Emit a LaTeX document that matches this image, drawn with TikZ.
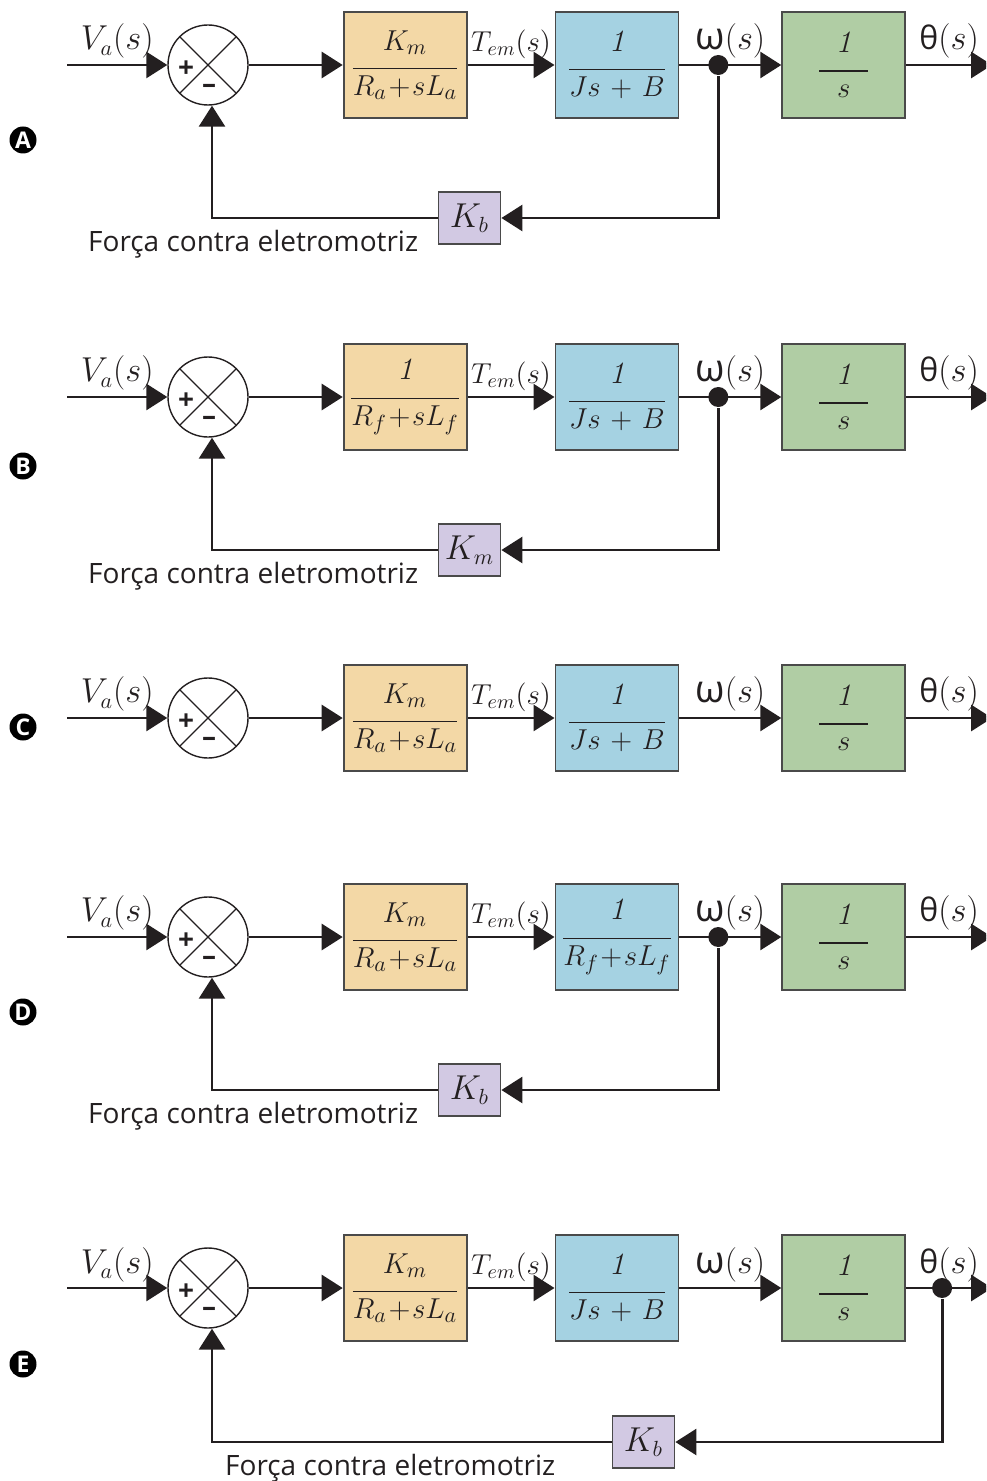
\documentclass[tikz,border=0pt]{standalone}
\usepackage{amsmath}
\usepackage{fontspec}
\newfontfamily\textofonte{Open Sans}
\usetikzlibrary{arrows.meta,positioning}

\definecolor{laranja}{HTML}{F3D8A6}
\definecolor{azul}{HTML}{A5D2E2}
\definecolor{verde}{HTML}{B0CDA4}
\definecolor{lilas}{HTML}{D2C9E3}
\definecolor{borda}{HTML}{4A4A4A}
\definecolor{tinta}{HTML}{231F20}

\newcommand{\fracao}[2]{$\dfrac{\raisebox{3pt}{$#1$}}{#2}$}
\newcommand{\romega}{{\textofonte\fontsize{19}{19}\selectfont ω}$(s)$}
\newcommand{\rtheta}{{\textofonte\fontsize{16}{16}\selectfont θ}$(s)$}

\begin{document}
\begin{tikzpicture}[x=0.5pt,y=-0.5pt,>={Triangle[length=10.5pt,width=13pt]},
    node distance=47pt,line width=1.4pt,color=tinta,
    bloco/.style={draw=borda,line width=0.9pt,minimum width=61.5pt,minimum height=53pt,
        inner sep=0pt,font=\fontsize{15.5}{18}\selectfont},
    somador/.style={draw,circle,line width=0.7pt,minimum size=40pt,inner sep=0pt,
        path picture={
            \draw[line width=0.6pt] (path picture bounding box.north west) -- (path picture bounding box.south east)
                (path picture bounding box.north east) -- (path picture bounding box.south west);
            \node[font=\textofonte\bfseries\fontsize{14}{14}\selectfont] at ([xshift=-11pt,yshift=-2pt]path picture bounding box.center) {+};
            \node[font=\textofonte\bfseries\fontsize{14}{14}\selectfont] at ([xshift=0.5pt,yshift=-12pt]path picture bounding box.center) {–};
        }},
    ganho/.style={draw=borda,fill=lilas,line width=0.9pt,minimum width=31pt,minimum height=26pt,
        inner sep=0pt,font=\fontsize{16}{19}\selectfont},
    ponto/.style={circle,fill=tinta,minimum size=10pt,inner sep=0pt},
    rotulo/.style={font=\fontsize{16}{19}\selectfont,inner sep=2.5pt},
    rotuloT/.style={rotulo,font=\fontsize{14.5}{17}\selectfont},
    letra/.style={circle,fill=black,text=white,minimum size=13.5pt,inner sep=0pt,
        font=\textofonte\bfseries\fontsize{11.5}{11.5}\selectfont},
    legenda/.style={font=\textofonte\fontsize{14}{16}\selectfont,inner sep=0pt}]

\useasboundingbox (0,0) rectangle (986,1481);
\clip (0,0) rectangle (986,1481);

% A
\node[somador] (sA) at (208,65) {};
\coordinate[left=50pt of sA] (inA);
\node[bloco,fill=laranja,right=of sA] (eA) {\fracao{K_m}{R_a\!+\!sL_a}};
\node[bloco,fill=azul,right=43.5pt of eA] (mA) {\fracao{\mathit{1}}{Js\mkern2mu+\mkern2mu B}};
\node[bloco,fill=verde,right=51pt of mA] (iA) {\fracao{\mathit{1}}{\hspace{9pt}s\hspace{9pt}}};
\coordinate[right=43pt of iA] (oA);
\node[ponto] (pA) at ([xshift=19.5pt]mA.east) {};
\node[ganho] (kA) at (469.5,218) {$K_b$};
\node[legenda,left=9pt of kA,yshift=-13pt] (tA) {Força contra eletromotriz};
\node[letra] (lA) at (23,140) {A};

\draw[->] (inA) -- node[rotulo,above] {$V_a(s)$} (sA);
\draw[->] (sA) -- (eA);
\draw[->] (eA) -- node[rotuloT,above] {$T_{em}(s)$} (mA);
\draw[->] (mA) -- node[rotulo,above] {\romega} (iA);
\draw[->] (iA) -- node[rotulo,above] {\rtheta} (oA);
\draw[->] (pA) |- (kA);
\draw[->] (kA) -| ([xshift=2pt]sA.south);

% B
\node[somador] (sB) at (208,397) {};
\coordinate[left=50pt of sB] (inB);
\node[bloco,fill=laranja,right=of sB] (eB) {\fracao{\mathit{1}}{R_f\!+\!sL_f}};
\node[bloco,fill=azul,right=43.5pt of eB] (mB) {\fracao{\mathit{1}}{Js\mkern2mu+\mkern2mu B}};
\node[bloco,fill=verde,right=51pt of mB] (iB) {\fracao{\mathit{1}}{\hspace{9pt}s\hspace{9pt}}};
\coordinate[right=43pt of iB] (oB);
\node[ponto] (pB) at ([xshift=19.5pt]mB.east) {};
\node[ganho] (kB) at (469.5,550) {$K_m$};
\node[legenda,left=9pt of kB,yshift=-13pt] (tB) {Força contra eletromotriz};
\node[letra] (lB) at (23,466) {B};

\draw[->] (inB) -- node[rotulo,above] {$V_a(s)$} (sB);
\draw[->] (sB) -- (eB);
\draw[->] (eB) -- node[rotuloT,above] {$T_{em}(s)$} (mB);
\draw[->] (mB) -- node[rotulo,above] {\romega} (iB);
\draw[->] (iB) -- node[rotulo,above] {\rtheta} (oB);
\draw[->] (pB) |- (kB);
\draw[->] (kB) -| ([xshift=2pt]sB.south);

% C
\node[somador] (sC) at (208,718) {};
\coordinate[left=50pt of sC] (inC);
\node[bloco,fill=laranja,right=of sC] (eC) {\fracao{K_m}{R_a\!+\!sL_a}};
\node[bloco,fill=azul,right=43.5pt of eC] (mC) {\fracao{\mathit{1}}{Js\mkern2mu+\mkern2mu B}};
\node[bloco,fill=verde,right=51pt of mC] (iC) {\fracao{\mathit{1}}{\hspace{9pt}s\hspace{9pt}}};
\coordinate[right=43pt of iC] (oC);
\node[letra] (lC) at (23,727) {C};

\draw[->] (inC) -- node[rotulo,above] {$V_a(s)$} (sC);
\draw[->] (sC) -- (eC);
\draw[->] (eC) -- node[rotuloT,above] {$T_{em}(s)$} (mC);
\draw[->] (mC) -- node[rotulo,above] {\romega} (iC);
\draw[->] (iC) -- node[rotulo,above] {\rtheta} (oC);

% D
\node[somador] (sD) at (208,937) {};
\coordinate[left=50pt of sD] (inD);
\node[bloco,fill=laranja,right=of sD] (eD) {\fracao{K_m}{R_a\!+\!sL_a}};
\node[bloco,fill=azul,right=43.5pt of eD] (mD) {\fracao{\mathit{1}}{R_f\!+\!sL_f}};
\node[bloco,fill=verde,right=51pt of mD] (iD) {\fracao{\mathit{1}}{\hspace{9pt}s\hspace{9pt}}};
\coordinate[right=43pt of iD] (oD);
\node[ponto] (pD) at ([xshift=19.5pt]mD.east) {};
\node[ganho] (kD) at (469.5,1090) {$K_b$};
\node[legenda,left=9pt of kD,yshift=-13pt] (tD) {Força contra eletromotriz};
\node[letra] (lD) at (23,1012) {D};

\draw[->] (inD) -- node[rotulo,above] {$V_a(s)$} (sD);
\draw[->] (sD) -- (eD);
\draw[->] (eD) -- node[rotuloT,above] {$T_{em}(s)$} (mD);
\draw[->] (mD) -- node[rotulo,above] {\romega} (iD);
\draw[->] (iD) -- node[rotulo,above] {\rtheta} (oD);
\draw[->] (pD) |- (kD);
\draw[->] (kD) -| ([xshift=2pt]sD.south);

% E
\node[somador] (sE) at (208,1288) {};
\coordinate[left=50pt of sE] (inE);
\node[bloco,fill=laranja,right=of sE] (eE) {\fracao{K_m}{R_a\!+\!sL_a}};
\node[bloco,fill=azul,right=43.5pt of eE] (mE) {\fracao{\mathit{1}}{Js\mkern2mu+\mkern2mu B}};
\node[bloco,fill=verde,right=51pt of mE] (iE) {\fracao{\mathit{1}}{\hspace{9pt}s\hspace{9pt}}};
\coordinate[right=43pt of iE] (oE);
\node[ponto] (pE) at ([xshift=18pt]iE.east) {};
\node[ganho] (kE) at (643.5,1442) {$K_b$};
\node[legenda,left=27.5pt of kE,yshift=-13pt] (tE) {Força contra eletromotriz};
\node[letra] (lE) at (23,1364) {E};

\draw[->] (inE) -- node[rotulo,above] {$V_a(s)$} (sE);
\draw[->] (sE) -- (eE);
\draw[->] (eE) -- node[rotuloT,above] {$T_{em}(s)$} (mE);
\draw[->] (mE) -- node[rotulo,above] {\romega} (iE);
\draw[->] (iE) -- node[rotulo,above] {\rtheta} (oE);
\draw[->] (pE) |- (kE);
\draw[->] (kE) -| ([xshift=2pt]sE.south);

\end{tikzpicture}
\end{document}
